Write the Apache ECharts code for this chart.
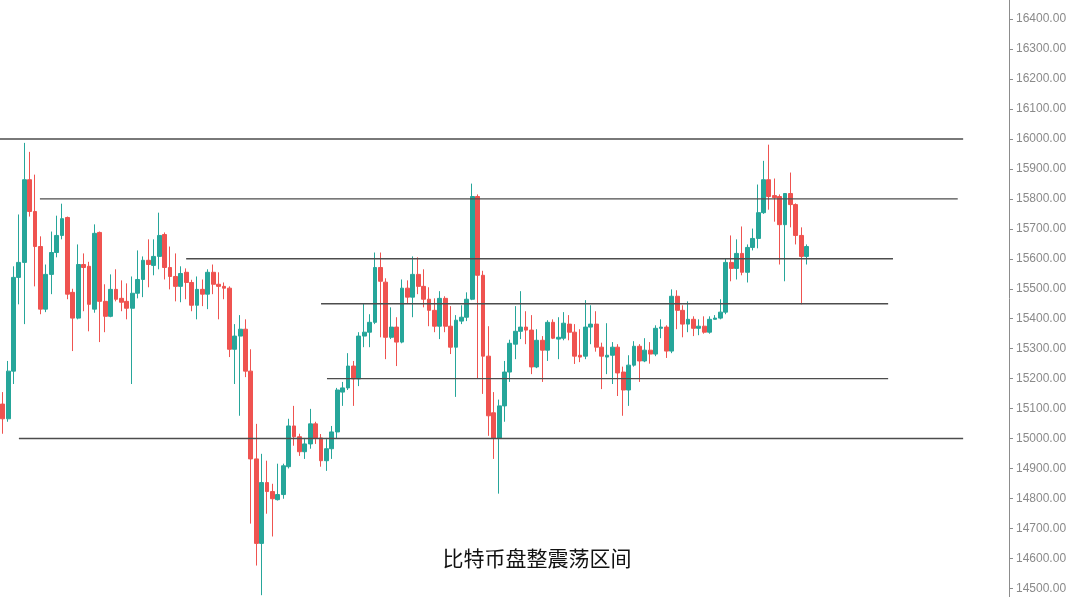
<!DOCTYPE html>
<html><head><meta charset="utf-8">
<script src="https://cdn.jsdelivr.net/npm/echarts@6/dist/echarts.min.js"></script>
<style>html,body{margin:0;padding:0;background:#fff}#c{width:1074px;height:597px}</style>
</head><body><div id="c"></div>
<script>
// OHLC values (150 candles)
const openPrices = [
15115,15066,15225,15538,15588,15864,15758,15641,15432,15548,
15621,15678,15738,15488,15402,15581,15575,15432,15688,15458,
15408,15498,15468,15458,15435,15485,15531,15595,15578,15608,
15681,15571,15541,15508,15555,15521,15445,15498,15482,15555,
15515,15508,15502,15298,15342,15365,15225,14932,14650,14853,
14823,14796,14813,14906,15042,15006,14956,14982,15049,15002,
14926,14966,15022,15155,15169,15242,15199,15342,15355,15388,
15571,15522,15338,15372,15322,15502,15472,15548,15508,15465,
15428,15375,15468,15375,15305,15392,15405,15465,15808,15545,
15275,15086,15002,15109,15222,15315,15358,15372,15362,15239,
15328,15295,15388,15332,15335,15382,15355,15278,15275,15372,
15382,15305,15272,15278,15305,15222,15162,15245,15308,15259,
15295,15282,15368,15372,15292,15475,15428,15382,15398,15368,
15375,15355,15398,15402,15422,15588,15568,15618,15555,15638,
15668,15754,15864,15811,15808,15714,15818,15781,15678,15608];
const closePrices = [
15066,15225,15538,15588,15864,15758,15641,15432,15548,15621,
15678,15734,15482,15402,15581,15571,15448,15685,15458,15408,
15498,15465,15455,15435,15485,15531,15595,15581,15608,15678,
15571,15541,15508,15551,15521,15445,15498,15482,15555,15515,
15508,15502,15298,15342,15365,15225,14932,14650,14853,14823,
14799,14813,14909,15042,15006,14956,14982,15049,15002,14926,
14966,15022,15162,15169,15242,15199,15342,15355,15388,15571,
15525,15338,15372,15322,15502,15472,15548,15508,15465,15428,
15375,15468,15375,15305,15395,15405,15465,15808,15545,15275,
15076,15002,15109,15222,15318,15358,15372,15362,15239,15328,
15295,15388,15335,15338,15385,15355,15275,15272,15372,15382,
15305,15275,15278,15305,15219,15162,15245,15308,15259,15295,
15282,15368,15372,15292,15475,15428,15382,15398,15368,15375,
15355,15398,15402,15422,15588,15568,15618,15555,15638,15668,
15754,15864,15808,15804,15714,15818,15781,15678,15608,15641];
const lowPrices = [
15016,15056,15182,15448,15382,15741,15508,15415,15422,15482,
15605,15665,15465,15292,15398,15425,15358,15420,15322,15355,
15405,15458,15425,15398,15182,15468,15472,15505,15545,15565,
15531,15498,15458,15455,15465,15425,15398,15442,15432,15482,
15398,15465,15272,15182,15076,15205,14716,14576,14477,14749,
14673,14793,14799,14900,14976,14942,14932,14966,14982,14906,
14892,14932,15000,15109,15162,15109,15175,15305,15305,15382,
15338,15265,15332,15242,15318,15452,15405,15482,15438,15375,
15355,15332,15355,15282,15139,15382,15392,15462,15199,15149,
15009,14932,14816,15056,15189,15265,15332,15315,15215,15235,
15189,15259,15332,15265,15328,15328,15249,15255,15265,15315,
15290,15165,15215,15182,15142,15076,15109,15240,15189,15255,
15250,15275,15335,15269,15285,15365,15338,15355,15342,15345,
15350,15350,15398,15398,15415,15525,15531,15545,15521,15628,
15635,15750,15764,15724,15581,15525,15705,15648,15448,15581];
const highPrices = [
15155,15259,15575,15748,15987,15957,15881,15675,15581,15691,
15744,15784,15741,15500,15648,15618,15590,15715,15691,15515,
15548,15565,15528,15518,15541,15628,15608,15665,15665,15754,
15688,15641,15618,15575,15568,15530,15541,15531,15565,15581,
15555,15521,15508,15382,15412,15398,15298,15049,14949,14926,
14849,14916,14916,15066,15109,15016,15002,15099,15056,15015,
15002,15042,15169,15189,15285,15259,15355,15452,15415,15621,
15621,15535,15438,15405,15531,15528,15608,15605,15565,15505,
15468,15492,15475,15442,15412,15445,15488,15851,15815,15560,
15375,15155,15130,15259,15330,15442,15492,15425,15412,15365,
15342,15395,15398,15405,15422,15412,15382,15365,15462,15445,
15425,15320,15385,15322,15315,15240,15278,15325,15315,15335,
15322,15378,15398,15378,15498,15495,15445,15458,15408,15398,
15408,15408,15412,15465,15600,15678,15665,15708,15648,15701,
15848,15927,15981,15868,15815,15818,15888,15785,15705,15648];

const slotCount = 187; // time slots on the axis (right part of the chart is empty)
const categories = Array.from({length: slotCount}, (_, i) => String(i + 1));
const yTickValues = [14500,14600,14700,14800,14900,15000,15100,15200,15300,15400,
  15500,15600,15700,15800,15900,16000,16100,16200,16300,16400];

// support / resistance levels: price, first slot, last slot
const levelPrices = [16000, 15800, 15600, 15450, 15200, 15000];
const levelStarts = [-0.5, 6.9, 34, 59, 60.1, 3];
const levelEnds   = [178, 177, 165, 164.1, 164.1, 178];

const chartTitle = '比特币盘整震荡区间';

const candleData = openPrices.map((o, i) => [o, closePrices[i], lowPrices[i], highPrices[i]]);

const levelSeries = levelPrices.map((p, k) => ({
  type: 'line',
  xAxisIndex: 1,
  yAxisIndex: 0,
  data: [[levelStarts[k], p], [levelEnds[k], p]],
  symbol: 'none',
  silent: true,
  z: 5,
  lineStyle: { color: '#4d4d4d', width: 1.4 }
}));

const chart = echarts.init(document.getElementById('c'), null, { renderer: 'canvas' });
chart.setOption({
  animation: false,
  backgroundColor: '#ffffff',
  title: {
    text: chartTitle,
    left: 'center',
    top: 543,
    textStyle: { fontFamily: 'Noto Sans CJK SC', fontSize: 21, fontWeight: 'normal', color: '#111' }
  },
  grid: { left: 0, right: 65, top: 0, bottom: 0 },
  xAxis: [
    {
      type: 'category', data: categories, boundaryGap: true,
      axisLine: { show: false }, axisTick: { show: false }, axisLabel: { show: false },
      splitLine: { show: false }
    },
    {
      type: 'value', min: -0.5, max: slotCount - 0.5, show: false
    }
  ],
  yAxis: {
    type: 'value', position: 'right', min: 14471, max: 16464, scale: true,
    axisLine: { show: true, onZero: false, lineStyle: { color: '#8c8c8c', width: 1 } },
    axisTick: { show: true, length: 4, lineStyle: { color: '#8c8c8c' }, customValues: yTickValues },
    axisLabel: {
      show: true, margin: 7, color: '#8a8a8a', fontSize: 12, fontFamily: 'Liberation Sans, Arial, sans-serif',
      customValues: yTickValues,
      formatter: v => Number(v).toFixed(2)
    },
    splitLine: { show: false }
  },
  series: [
    {
      type: 'candlestick',
      data: candleData,
      barWidth: '80%',
      itemStyle: {
        color: '#26a69a', color0: '#ef5350',
        borderColor: '#26a69a', borderColor0: '#ef5350', borderWidth: 1
      }
    }
  ].concat(levelSeries)
});
</script>
</body></html>
